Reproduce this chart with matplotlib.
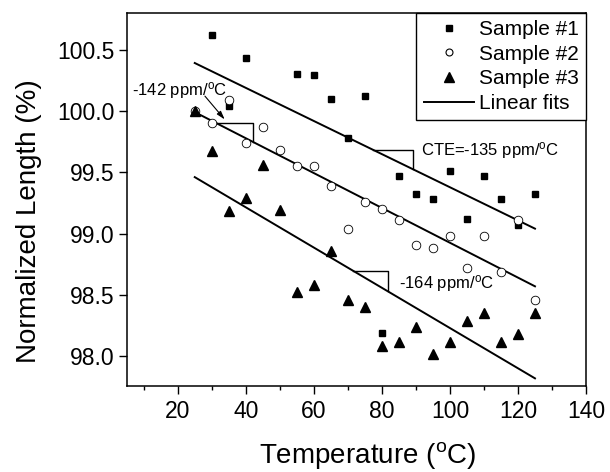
import numpy as np
import matplotlib
matplotlib.use("Agg")
import matplotlib.pyplot as plt
from matplotlib.lines import Line2D

plt.rcParams['font.family'] = ['Liberation Sans', 'DejaVu Sans']
plt.rcParams['mathtext.fontset'] = 'custom'
plt.rcParams['mathtext.rm'] = 'Liberation Sans'
plt.rcParams['mathtext.it'] = 'Liberation Sans:italic'

# Sample #1 (squares)
temp_s1 = [30, 35, 40, 55, 60, 65, 70, 75, 80, 85, 90, 95, 100, 105, 110, 115, 120, 125]
len_s1 = [100.62, 100.04, 100.43, 100.30, 100.29, 100.10, 99.78, 100.12, 98.19,
          99.47, 99.32, 99.28, 99.51, 99.12, 99.47, 99.28, 99.07, 99.32]

# Sample #2 (open circles)
temp_s2 = [25, 30, 35, 40, 45, 50, 55, 60, 65, 70, 75, 80, 85, 90, 95, 100, 105, 110, 115, 120, 125]
len_s2 = [100.00, 99.90, 100.09, 99.74, 99.87, 99.68, 99.55, 99.55, 99.39, 99.04, 99.26,
          99.20, 99.11, 98.91, 98.88, 98.98, 98.72, 98.98, 98.69, 99.11, 98.46]

# Sample #3 (triangles)
temp_s3 = [25, 30, 35, 40, 45, 50, 55, 60, 65, 70, 75, 80, 85, 90, 95, 100, 105, 110, 115, 120, 125]
len_s3 = [100.00, 99.67, 99.18, 99.29, 99.56, 99.19, 98.52, 98.58, 98.86, 98.46, 98.40,
          98.08, 98.12, 98.24, 98.02, 98.12, 98.29, 98.35, 98.12, 98.18, 98.35]

# Linear fits: value at 25 C and slope in ppm/C
fit_range = [25, 125]
fit_start = [100.39, 99.99, 99.46]
fit_slope_ppm = [-135, -142, -164]

x_ticks = [20, 40, 60, 80, 100, 120, 140]
y_ticks = [98.0, 98.5, 99.0, 99.5, 100.0, 100.5]


def fit_value(i, t):
    return fit_start[i] + fit_slope_ppm[i] * 1e-4 * (t - fit_range[0])


fig = plt.figure(figsize=(6.1, 4.72), dpi=100)
ax = fig.add_axes([0.2077, 0.1828, 0.753, 0.7903])

ax.plot(temp_s1, len_s1, 's', color='black', ms=4.8, mec='black', label='Sample #1', zorder=3)
ax.plot(temp_s2, len_s2, 'o', mfc='white', mec='black', mew=0.6, ms=6.2, label='Sample #2', zorder=3)
ax.plot(temp_s3, len_s3, '^', color='black', ms=6.8, label='Sample #3', zorder=3)

t = np.array(fit_range, dtype=float)
for i in range(3):
    ax.plot(t, fit_value(i, t), '-', color='black', lw=1.4, zorder=2)

# slope markers (right angles on each fit)
corners = [(77.4, 89.0), (31.5, 42.0), (71.5, 81.8)]
for i, (xa, xb) in enumerate(corners):
    ya = fit_value(i, xa)
    yb = fit_value(i, xb)
    ax.plot([xa, xb, xb], [ya, ya, yb], '-', color='black', lw=1.0, zorder=2)

deg = r'$^{\rm o}$'
ax.text(91.5, 99.68, 'CTE=-135 ppm/' + deg + 'C', fontsize=12, ha='left', va='center')
ax.text(84.9, 98.59, '-164 ppm/' + deg + 'C', fontsize=12, ha='left', va='center')
ax.text(6.5, 100.17, '-142 ppm/' + deg + 'C', fontsize=12, ha='left', va='center')
ax.annotate('', xy=(33.8, 99.93), xytext=(28.0, 100.12),
            arrowprops=dict(arrowstyle='-|>,head_length=0.5,head_width=0.15',
                            color='black', lw=0.8, shrinkA=0, shrinkB=0))

ax.set_xlim(5, 140)
ax.set_ylim(97.76, 100.8)
ax.set_xticks(x_ticks)
ax.set_xticks([10, 30, 50, 70, 90, 110, 130], minor=True)
ax.set_yticks(y_ticks)
ax.set_yticklabels([f'{v:.1f}' for v in y_ticks])
ax.tick_params(axis='both', which='major', direction='out', length=5.5, width=1.0,
               labelsize=16.5, pad=3)
ax.tick_params(axis='x', which='major', pad=5)
ax.tick_params(axis='x', which='minor', direction='out', length=3, width=1.0)
for sp in ax.spines.values():
    sp.set_linewidth(1.1)

ax.set_xlabel('Temperature (' + deg + 'C)', fontsize=20, labelpad=12)
ax.set_ylabel('Normalized Length (%)', fontsize=20, labelpad=11)
ax.xaxis.label.set_x(0.524)
ax.yaxis.label.set_y(0.44)

handles = [
    Line2D([], [], ls='none', marker='s', color='black', ms=4.8),
    Line2D([], [], ls='none', marker='o', mfc='white', mec='black', mew=0.8, ms=5),
    Line2D([], [], ls='none', marker='^', color='black', ms=6.8),
    Line2D([], [], ls='-', color='black', lw=1.4),
]
labels = ['Sample #1', 'Sample #2', 'Sample #3', 'Linear fits']
leg = ax.legend(handles, labels, loc='upper right', fontsize=15, frameon=True, fancybox=False,
                borderaxespad=0, borderpad=0.35, labelspacing=0.27, handlelength=2.4,
                handletextpad=0.25, edgecolor='black', framealpha=1)
leg.get_frame().set_linewidth(1.0)

fig.savefig('out.png', dpi=100)
